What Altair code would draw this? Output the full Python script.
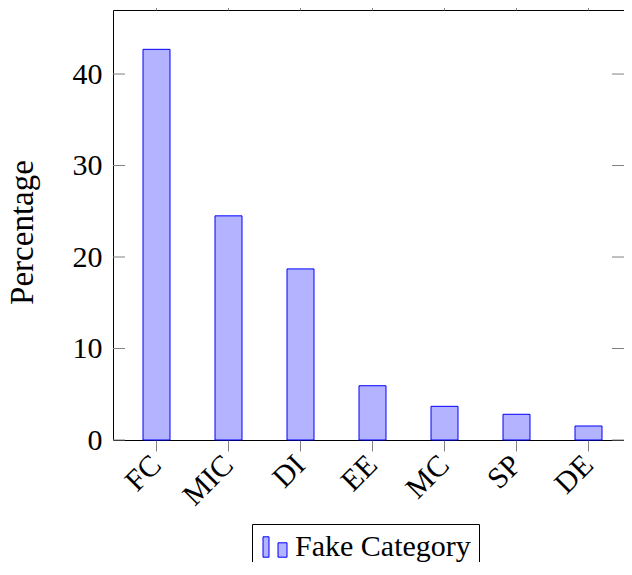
import altair as alt
import pandas as pd

categories = ["FC", "MIC", "DI", "EE", "MC", "SP", "DE"]
values = [42.7, 24.5, 18.7, 5.93, 3.68, 2.81, 1.53]
series_name = "Fake Category"
y_ticks = [0, 10, 20, 30, 40]

FONT = "Liberation Serif"
TICK_GRAY = "#808080"
W, H = 511, 430

df = pd.DataFrame({"cat": categories, "val": values, "series": [series_name] * len(categories)})
ticks_df = pd.DataFrame({"v": y_ticks})

xscale = alt.Scale(domain=categories, range=[30, 489], paddingInner=0.625, paddingOuter=0)
yscale = alt.Scale(domain=[0, 47], nice=False, zero=True)

legend_symbol = "M-1,-0.85 H-0.5 V0.85 H-1 Z M0.25,-0.35 H1 V0.85 H0.25 Z"

bars = alt.Chart(df).mark_bar(stroke="#0000ff", strokeWidth=1).encode(
    x=alt.X("cat:N", sort=categories, scale=xscale,
            axis=alt.Axis(orient="bottom", title=None, labelAngle=315, labelAlign="right",
                          labelBaseline="middle", labelFontSize=30, labelFont=FONT,
                          labelColor="black", labelPadding=9, tickSize=11,
                          tickColor=TICK_GRAY, tickWidth=1, domain=False, grid=False)),
    y=alt.Y("val:Q", scale=yscale,
            axis=alt.Axis(orient="left", values=y_ticks, title="Percentage", ticks=False,
                          labelFontSize=30, labelFont=FONT, labelColor="black",
                          labelPadding=11, domain=False, grid=False,
                          titleFont=FONT, titleFontSize=33, titleFontWeight="normal",
                          titleColor="black", titleAngle=270, titleX=-91, titleY=222,
                          titleAlign="center", titleBaseline="middle")),
    color=alt.Color("series:N", scale=alt.Scale(range=["#b3b3ff"]),
                    legend=alt.Legend(title=None, orient="none", legendX=139, legendY=514,
                                      symbolType=legend_symbol, symbolSize=576,
                                      symbolStrokeColor="#0000ff", symbolStrokeWidth=1,
                                      symbolOpacity=1, labelFontSize=30, labelFont=FONT,
                                      labelColor="black", labelOffset=5, labelLimit=500,
                                      strokeColor="black", padding=8, cornerRadius=0,
                                      fillColor="white")),
)

top_axis = alt.Chart(df).mark_bar(opacity=0).encode(
    x=alt.X("cat:N", sort=categories, scale=xscale,
            axis=alt.Axis(orient="top", title=None, labels=False, tickSize=11,
                          tickColor=TICK_GRAY, tickWidth=1, domain=False, grid=False)),
    y=alt.Y("val:Q", scale=yscale, axis=None),
)

left_ticks = alt.Chart(ticks_df).mark_rule(color=TICK_GRAY, strokeWidth=1).encode(
    y=alt.Y("v:Q", scale=yscale, axis=None),
    x=alt.value(0), x2=alt.value(12),
)
right_ticks = alt.Chart(ticks_df).mark_rule(color=TICK_GRAY, strokeWidth=1).encode(
    y=alt.Y("v:Q", scale=yscale, axis=None),
    x=alt.value(W - 12), x2=alt.value(W),
)

chart = alt.layer(bars, top_axis, left_ticks, right_ticks).resolve_axis(
    x="independent", y="independent"
).properties(
    width=W, height=H,
    autosize=alt.AutoSizeParams(type="none"),
    padding={"left": 105, "top": 2, "right": 0, "bottom": 122},
).configure(background="white", font=FONT).configure_view(stroke="black", strokeWidth=1)

chart.save("out.html", embed_options={"renderer": "svg", "actions": False})
